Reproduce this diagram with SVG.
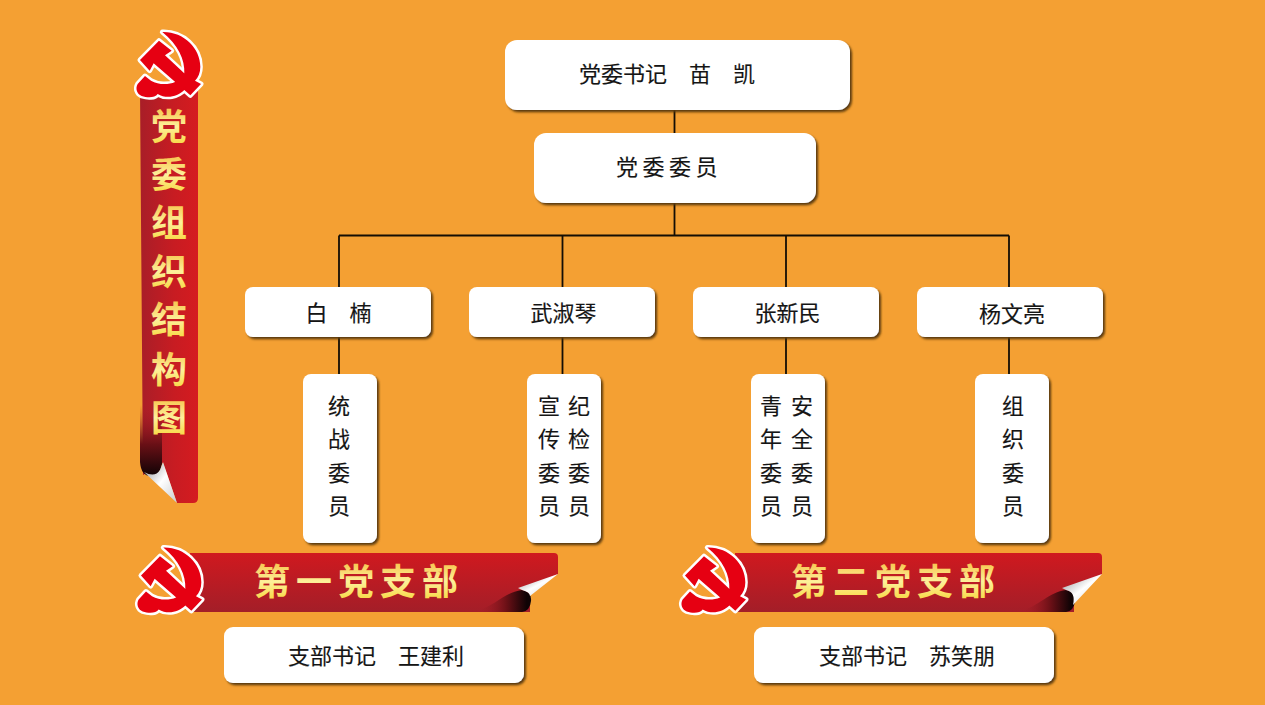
<svg xmlns="http://www.w3.org/2000/svg" width="1265" height="705" viewBox="0 0 1265 705">
<style>
.box{fill:#fff;filter:url(#sh)}
.t{font-family:"Noto Sans CJK SC","Noto Sans",sans-serif;font-size:22px;fill:#151515;text-anchor:middle;stroke:#151515;stroke-width:.15}
.g{font-family:"Noto Sans CJK SC","Noto Sans",sans-serif;font-weight:700;font-size:36px;text-anchor:middle;fill:url(#gv)}
.line{stroke:#140e05;stroke-width:1.8;fill:none}
</style>
<defs>
<filter id="sh" x="-10%" y="-10%" width="120%" height="125%"><feDropShadow dx="2" dy="2.2" stdDeviation="0.9" flood-color="#5b3b0c"/></filter>
<linearGradient id="gv" x1="0" y1="0" x2="0" y2="1"><stop offset=".1" stop-color="#f5bb3c"/><stop offset=".55" stop-color="#fdf09a"/><stop offset=".9" stop-color="#f8d845"/></linearGradient>
<linearGradient id="rv" x1="0" y1="0" x2="1" y2="0"><stop offset="0" stop-color="#a81e28"/><stop offset=".6" stop-color="#c81c22"/><stop offset="1" stop-color="#d51b20"/></linearGradient>
<linearGradient id="rh" x1="0" y1="0" x2="0" y2="1"><stop offset="0" stop-color="#d0191f"/><stop offset="1" stop-color="#a31e28"/></linearGradient>
<linearGradient id="cv" x1="0" y1="0" x2="0" y2="1"><stop offset="0" stop-color="#a81e28" stop-opacity="0"/><stop offset=".55" stop-color="#6a1016"/><stop offset="1" stop-color="#0f0305"/></linearGradient>
<linearGradient id="ch" x1="0" y1="0" x2="1" y2="0"><stop offset="0" stop-color="#a81e28" stop-opacity="0"/><stop offset=".55" stop-color="#6a1016"/><stop offset=".92" stop-color="#0f0305"/></linearGradient>
<linearGradient id="sil" x1="0" y1="0" x2="1" y2="1"><stop offset="0" stop-color="#8d9094"/><stop offset=".5" stop-color="#ffffff"/><stop offset="1" stop-color="#c9ccd0"/></linearGradient>
<path id="sk" d="M112 36C175 34 226 84 226 140C226 158 220 172 210 182L228 192L196 226L178 210C158 230 125 238 98 222C90 234 68 234 50 228C36 222 30 206 38 192L60 168L78 182C100 195 130 195 150 186L178 160C180 120 160 75 112 36Z"/>
<path id="hm" d="M45 120L102 62L140 92L120 106L205 185L175 207L86 130L74 152Z"/>
<g id="emblem" transform="scale(.3333)">
<g fill="#fff" stroke="#fff" stroke-width="15" stroke-linejoin="round"><use href="#sk"/><use href="#hm"/></g>
<g fill="#e60012"><use href="#sk"/><use href="#hm"/></g>
</g>
</defs>
<rect width="1265" height="705" fill="#f4a033"/>
<g id="connectors" class="line">
<path d="M674.5 110V133M674.5 203V235.5M339 235.5H1009M339 235.5V287M562.500 235.5V287M786 235.5V287M1009 235.5V287M339 337V374M562.500 337V374M786 337V374M1009 337V374"/>
</g>
<g id="ribbon-main">
<path d="M140 90H198V498Q198 503 193 503H177L163 463L143 475Z" fill="url(#rv)"/>
<path d="M140 405H162V464Q160 476 151 476Q141 476 140 462Z" fill="url(#cv)"/>
<path d="M163 462L177 503L144 472Q155 478 160 470Z" fill="url(#sil)"/>
<use href="#emblem" transform="translate(125 20)"/>
<text class="g" x="169" y="140">党</text><text class="g" x="169" y="188">委</text><text class="g" x="169" y="236">组</text><text class="g" x="169" y="285">织</text><text class="g" x="169" y="333">结</text><text class="g" x="169" y="383">构</text><text class="g" x="169" y="431">图</text>
</g>
<g id="n-secretary"><rect class="box" x="505" y="40" width="345" height="70" rx="12"/><text class="t" x="667" y="82">党委书记　苗　凯</text></g>
<g id="n-committee"><rect class="box" x="534" y="133" width="282" height="70" rx="12"/><text class="t" x="669" y="175" letter-spacing="4.5">党委委员</text></g>
<g id="n-bai"><rect class="box" x="245" y="287" width="186" height="50" rx="8"/><text class="t" x="338.500" y="321">白　楠</text></g>
<g id="n-wu"><rect class="box" x="469" y="287" width="186" height="50" rx="8"/><text class="t" x="563.500" y="321">武淑琴</text></g>
<g id="n-zhang"><rect class="box" x="693" y="287" width="186" height="50" rx="8"/><text class="t" x="787.500" y="321">张新民</text></g>
<g id="n-yang"><rect class="box" x="917" y="287" width="186" height="50" rx="8"/><text class="t" x="1012" y="322">杨文亮</text></g>
<g id="n-d1"><rect class="box" x="303" y="374" width="74" height="169" rx="8"/><text class="t"><tspan x="339" y="414">统</tspan><tspan x="339" y="447">战</tspan><tspan x="339" y="481">委</tspan><tspan x="339" y="514">员</tspan></text></g>
<g id="n-d2"><rect class="box" x="527" y="374" width="74" height="169" rx="8"/><text class="t"><tspan x="549" y="414">宣</tspan><tspan x="549" y="447">传</tspan><tspan x="549" y="481">委</tspan><tspan x="549" y="514">员</tspan><tspan x="579" y="414">纪</tspan><tspan x="579" y="447">检</tspan><tspan x="579" y="481">委</tspan><tspan x="579" y="514">员</tspan></text></g>
<g id="n-d3"><rect class="box" x="751" y="374" width="74" height="169" rx="8"/><text class="t"><tspan x="771" y="414">青</tspan><tspan x="771" y="447">年</tspan><tspan x="771" y="481">委</tspan><tspan x="771" y="514">员</tspan><tspan x="802" y="414">安</tspan><tspan x="802" y="447">全</tspan><tspan x="802" y="481">委</tspan><tspan x="802" y="514">员</tspan></text></g>
<g id="n-d4"><rect class="box" x="975" y="374" width="74" height="169" rx="8"/><text class="t"><tspan x="1013" y="414">组</tspan><tspan x="1013" y="447">织</tspan><tspan x="1013" y="481">委</tspan><tspan x="1013" y="514">员</tspan></text></g>
<g id="banner-1">
<path d="M190 553H554Q558 553 558 557V574L530 590V612H190Z" fill="url(#rh)"/>
<path d="M477 611C495 606 505 592 522 590Q532 592 531 601Q530 611 522 612H477Z" fill="url(#ch)"/>
<path d="M518 588L558 574L530 596Q530 592 522 590Z" fill="url(#sil)"/>
<use href="#emblem" transform="translate(126 535.500)"/>
<text class="g" x="359" y="595" letter-spacing="6">第一党支部</text>
</g>
<g id="banner-2">
<path d="M735 553H1098Q1102 553 1102 557V574L1074 590V612H735Z" fill="url(#rh)"/>
<path d="M1021 611C1039 606 1049 592 1066 590Q1076 592 1075 601Q1074 611 1066 612H1021Z" fill="url(#ch)"/>
<path d="M1062 588L1102 574L1073 605Q1076 592 1066 590Z" fill="url(#sil)"/>
<use href="#emblem" transform="translate(670 535.500)"/>
<text class="g" x="896" y="595" letter-spacing="6">第二党支部</text>
</g>
<g id="n-s1"><rect class="box" x="224" y="627" width="300" height="56" rx="9"/><text class="t" x="376" y="664">支部书记　王建利</text></g>
<g id="n-s2"><rect class="box" x="754" y="627" width="300" height="56" rx="9"/><text class="t" x="907" y="664">支部书记　苏笑朋</text></g>
</svg>
